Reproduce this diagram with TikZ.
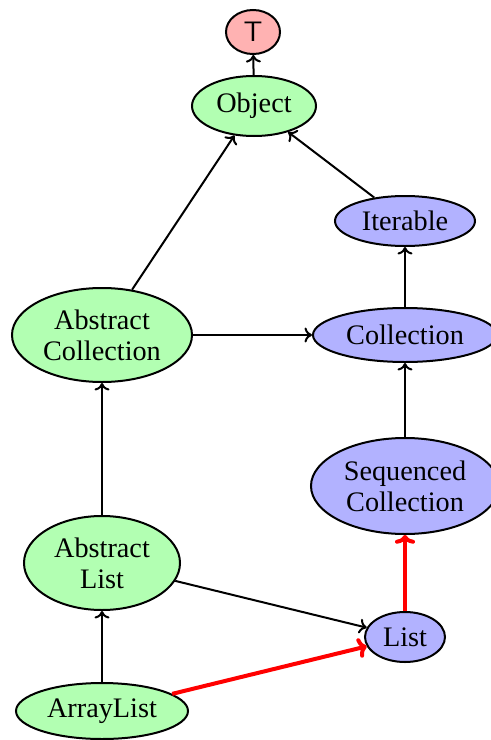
\documentclass[tikz,border=0pt]{standalone}
\usepackage{fontspec}
\setmainfont{Liberation Serif}
\usetikzlibrary{arrows.meta,shapes.geometric}
\begin{document}
\begin{tikzpicture}[x=0.4pt,y=-0.4pt,
  cls/.style={ellipse, draw, thick, inner sep=0pt, align=center, font=\fontsize{11.3}{12.5}\selectfont},
  topc/.style={cls, fill=red!30},
  javac/.style={cls, fill=green!30},
  ifc/.style={cls, fill=blue!30},
  edge/.style={thick, -{To[length=3pt,width=6pt]}},
  hot/.style={line width=1.6pt, red, -{To[length=3.5pt,width=8pt]}}]
\useasboundingbox (0,0) rectangle (491,740);
\node[topc, minimum width=54*0.4pt, minimum height=44*0.4pt] (top) at (253,32) {\sffamily T};
\node[javac, minimum width=124*0.4pt, minimum height=60*0.4pt] (object) at (254,106) {Object};
\node[ifc, minimum width=140*0.4pt, minimum height=50*0.4pt] (iterable) at (405,221) {Iterable};
\node[ifc, minimum width=184*0.4pt, minimum height=54*0.4pt] (collection) at (405,335) {Collection};
\node[javac, minimum width=180*0.4pt, minimum height=94*0.4pt] (abscoll) at (102,335) {Abstract\\Collection};
\node[ifc, minimum width=188*0.4pt, minimum height=96*0.4pt] (seqcoll) at (405,486) {Sequenced\\Collection};
\node[javac, minimum width=156*0.4pt, minimum height=94*0.4pt] (abslist) at (102,563) {Abstract\\List};
\node[ifc, minimum width=80*0.4pt, minimum height=50*0.4pt] (list) at (405,637) {List};
\node[javac, minimum width=172*0.4pt, minimum height=56*0.4pt] (arraylist) at (102,711) {ArrayList};

\draw[edge] (object) -- (top);
\draw[edge] (abscoll) -- (object);
\draw[edge] (iterable) -- (object);
\draw[edge] (collection) -- (iterable);
\draw[edge] (abscoll) -- (collection);
\draw[edge] (seqcoll) -- (collection);
\draw[edge] (abslist) -- (abscoll);
\draw[edge] (abslist) -- (list);
\draw[edge] (arraylist) -- (abslist);
\draw[hot] (arraylist) -- (list);
\draw[hot] (list) -- (seqcoll);
\end{tikzpicture}
\end{document}
